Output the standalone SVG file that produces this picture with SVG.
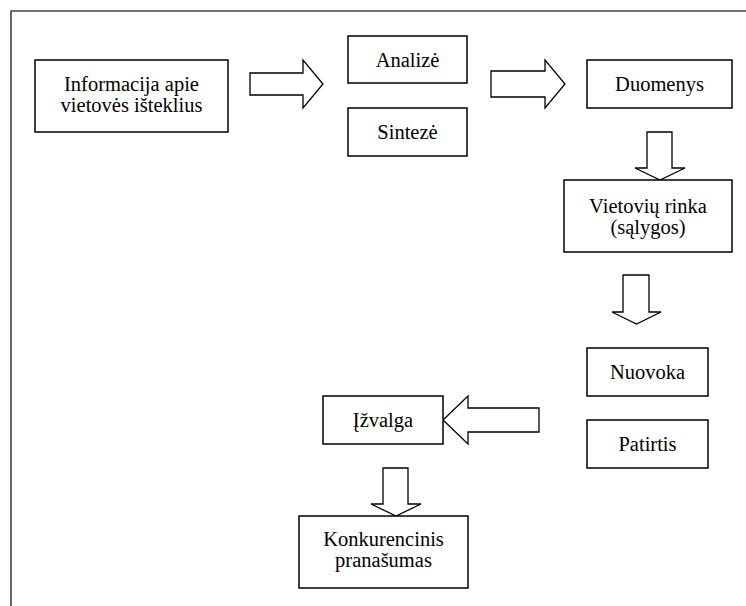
<svg xmlns="http://www.w3.org/2000/svg" width="746" height="606" viewBox="0 0 746 606">
<style>
.box{fill:#fff;stroke:#000;stroke-width:1.5}
.arr{fill:#fff;stroke:#000;stroke-width:1.3;stroke-linejoin:miter}
text{font-size:20.5px;fill:#000;text-anchor:middle}
</style>
<rect width="746" height="606" fill="#fff"/>
<path d="M11,606 V11 H746" fill="none" stroke="#444" stroke-width="1.6"/>
<g id="connectors">
<polygon class="arr" points="250,73 303,73 303,60 323,84 303,108 303,95 250,95"/>
<polygon class="arr" points="491,71 545,71 545,60 565,84 545,108 545,97 491,97"/>
<polygon class="arr" points="647,132 672,132 672,168 685,168 660,180 635,168 647,168"/>
<polygon class="arr" points="623,275 649,275 649,312 661,312 636.5,324 612,312 623,312"/>
<polygon class="arr" points="539,408 468,408 468,396 443,420 468,444 468,432 539,432"/>
<polygon class="arr" points="383,468 408,468 408,504 421,504 396,516 371,504 383,504"/>
</g>
<g font-family="Liberation Serif, Times New Roman, DejaVu Serif, serif">
<g id="info"><rect class="box" x="35" y="60" width="193" height="72"/><text x="131.5" y="91">Informacija apie</text><text x="131.5" y="112">vietovės išteklius</text></g>
<g id="analize"><rect class="box" x="348" y="36" width="119" height="47"/><text x="407.5" y="66.5">Analizė</text></g>
<g id="sinteze"><rect class="box" x="348" y="108" width="119" height="48"/><text x="407.5" y="139">Sintezė</text></g>
<g id="duomenys"><rect class="box" x="587" y="60" width="145" height="48"/><text x="659.5" y="91">Duomenys</text></g>
<g id="rinka"><rect class="box" x="564" y="180" width="168" height="72"/><text x="648" y="212.5">Vietovių rinka</text><text x="648" y="233.5">(sąlygos)</text></g>
<g id="nuovoka"><rect class="box" x="587" y="348" width="121" height="48"/><text x="647.5" y="379">Nuovoka</text></g>
<g id="patirtis"><rect class="box" x="587" y="420" width="121" height="48"/><text x="647.5" y="451">Patirtis</text></g>
<g id="izvalga"><rect class="box" x="323" y="396" width="120" height="48"/><text x="383" y="427">Įžvalga</text></g>
<g id="konkurencinis"><rect class="box" x="299" y="516" width="169" height="72"/><text x="383.5" y="545.5">Konkurencinis</text><text x="383.5" y="566.5">pranašumas</text></g>
</g>
</svg>
